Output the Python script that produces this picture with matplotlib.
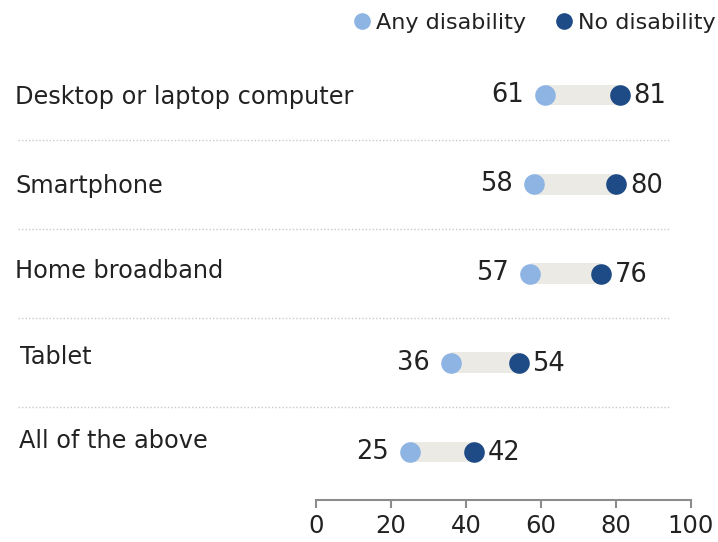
import matplotlib.pyplot as plt
from matplotlib.lines import Line2D
import numpy as np

categories = ['Desktop or laptop computer', 'Smartphone', 'Home broadband',
              'Tablet', 'All of the above']
any_disability = [61, 58, 57, 36, 25]
no_disability = [81, 80, 76, 54, 42]

light = '#8db4e3'
dark = '#1e4a85'
bar_col = '#eceae4'
text_col = '#222222'

W, H = 718, 542
fig = plt.figure(figsize=(W / 100, H / 100), dpi=100)
# x: 0 at px 316, 100 at px 691 ; rows at px 95 + 89.25*i
ax = fig.add_axes([316 / W, 1 - 500 / H, 375 / W, 455 / H])

y = np.arange(len(categories))
lo = np.array(any_disability)
hi = np.array(no_disability)

ax.barh(y, hi - lo, left=lo, height=0.23, color=bar_col, zorder=1)
ax.scatter(lo, y, s=220, color=light, zorder=3, clip_on=False, linewidths=0)
ax.scatter(hi, y, s=220, color=dark, zorder=3, clip_on=False, linewidths=0)

for yi, a, b in zip(y, lo, hi):
    ax.annotate(str(a), (a, yi), xytext=(-15, 0), textcoords='offset points',
                ha='right', va='center', fontsize=18.5, color=text_col)
    ax.annotate(str(b), (b, yi), xytext=(10, -1), textcoords='offset points',
                ha='left', va='center', fontsize=18.5, color=text_col)

# row labels at the left edge of the figure (small per-row nudges in px)
label_x_px = [15, 15, 15, 20, 19]
label_dy_px = [-2, -2, 3, 6, 11]
trans = ax.get_yaxis_transform()
for yi, cat, lx, dy in zip(y, categories, label_x_px, label_dy_px):
    ax.annotate(cat, ((lx - 316) / 375, yi), xycoords=trans,
                xytext=(0, dy * 0.72), textcoords='offset points',
                ha='left', va='center', fontsize=17.3, color=text_col,
                annotation_clip=False)

# dotted separators
for yi in y[:-1] + 0.5:
    ax.axhline(yi, xmin=(18 - 316) / 375, xmax=(670 - 316) / 375,
               color='#c8c8c8', lw=1, ls=(0, (1, 1.5)), clip_on=False)

ax.set_xlim(0, 100)
ax.set_ylim((500 - 95) / 89.25, (45 - 95) / 89.25)
ax.set_xticks([0, 20, 40, 60, 80, 100])
ax.set_yticks([])
for s in ['top', 'right', 'left']:
    ax.spines[s].set_visible(False)
ax.spines['bottom'].set_color('#8c8c8c')
ax.spines['bottom'].set_linewidth(1.5)
ax.tick_params(axis='x', direction='out', length=6, width=1.5,
               color='#8c8c8c', labelsize=17.5, labelcolor=text_col, pad=4)

handles = [Line2D([], [], marker='o', ls='', color=light, markersize=12,
                  markeredgewidth=0),
           Line2D([], [], marker='o', ls='', color=dark, markersize=12,
                  markeredgewidth=0)]
fig.legend(handles, ['Any disability', 'No disability'], loc='center right',
           bbox_to_anchor=(716 / W, 1 - 23 / H), ncol=2, frameon=False,
           fontsize=16, handlelength=0.8, handletextpad=0.25,
           columnspacing=1.3, borderpad=0, borderaxespad=0,
           labelcolor=text_col)

fig.savefig('out.png', dpi=100)
